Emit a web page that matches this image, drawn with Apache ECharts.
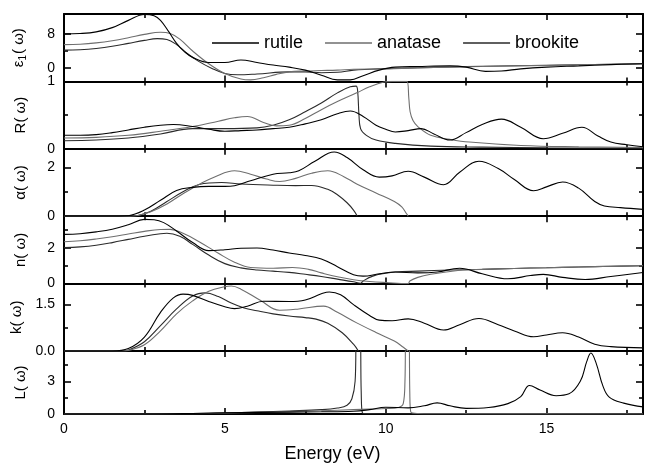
<!DOCTYPE html>
<html><head><meta charset="utf-8">
<script src="https://cdn.jsdelivr.net/npm/echarts@6/dist/echarts.min.js"></script>
<style>html,body{margin:0;padding:0;background:#fff}#c{width:645px;height:464px}</style>
</head><body><div id="c"></div>
<script>
// ---- data: [energy (eV), value] ----
const seriesNames = ['rutile', 'anatase', 'brookite'];
const xTicksMajor = [0, 5, 10, 15];
const xTicksMinor = [2.5, 7.5, 12.5, 17.5];

const eps1Rutile = [[0,8.0],[0.5,8.1],[1,8.5],[1.5,9.5],[2,11.2],[2.5,12.6],[2.8,12.3],[3,11.2],[3.25,8.6],[3.5,5.8],[3.75,3.8],[4,2.5],[4.5,1.3],[5,1.3],[5.5,1.9],[6,1.3],[6.5,0.7],[7,0.2],[7.5,-0.5],[8,-1.7],[8.5,-2.8],[8.9,-2.8],[9.3,-1.8],[9.8,-0.5],[10.3,0.2],[11,0.35],[12,0.5],[12.5,0.2],[13.1,-0.8],[13.6,-0.7],[14.2,-0.2],[15,0.2],[16,0.5],[17,0.8],[18,1.0]];
const eps1Anatase = [[0,5.5],[0.5,5.6],[1,5.9],[1.5,6.4],[2,7.1],[2.5,7.9],[3,8.4],[3.3,8.1],[3.6,6.8],[4,4.0],[4.5,1.0],[5,-1.3],[5.5,-2.6],[5.8,-2.8],[6.2,-2.3],[6.6,-1.5],[7,-0.9],[7.5,-0.7],[8,-0.6],[8.5,-0.5],[9,-0.3],[10,-0.2],[11,0.0],[12,0.2],[13,0.35],[14,0.5],[15,0.6],[16,0.75],[17,0.88],[18,1.0]];
const eps1Brookite = [[0,4.2],[0.5,4.3],[1,4.6],[1.5,5.1],[2,5.8],[2.5,6.5],[2.9,6.9],[3.2,6.7],[3.5,5.5],[3.8,3.6],[4.2,1.5],[4.6,-0.1],[5,-1.3],[5.4,-1.6],[6,-1.4],[7,-0.9],[7.5,-0.9],[8,-1.1],[8.5,-1.0],[9,-0.5],[9.5,-0.3],[10,-0.15],[11,0.05],[12,0.25],[13,0.4],[14,0.52],[15,0.63],[16,0.77],[17,0.9],[18,1.02]];

const reflRutile = [[0,0.2],[0.5,0.2],[1,0.21],[1.5,0.24],[2,0.28],[2.5,0.32],[3,0.35],[3.4,0.36],[4,0.33],[4.5,0.29],[5,0.26],[5.5,0.27],[6,0.28],[6.5,0.3],[7,0.32],[7.5,0.37],[8,0.43],[8.5,0.52],[8.9,0.56],[9.3,0.48],[9.7,0.35],[10,0.29],[10.3,0.25],[10.7,0.27],[11.1,0.3],[11.5,0.22],[12,0.13],[12.5,0.24],[13,0.36],[13.6,0.44],[14.2,0.32],[14.9,0.15],[15.5,0.23],[16.1,0.32],[16.6,0.19],[17,0.1],[17.5,0.06],[18,0.03]];
const reflAnatase = [[0,0.16],[1,0.17],[2,0.2],[3,0.26],[4,0.33],[4.8,0.41],[5.3,0.46],[5.7,0.48],[6.2,0.39],[6.6,0.34],[7,0.35],[7.5,0.45],[8,0.58],[8.5,0.7],[9.1,0.83],[9.5,0.92],[9.95,0.99],[10.2,1.0],[10.66,1.0],[10.72,0.75],[10.76,0.55],[10.85,0.42],[11,0.33],[11.4,0.2],[12,0.14],[12.6,0.1],[14.2,0.05],[16,0.03],[18,0.02]];
const reflBrookite = [[0,0.12],[1,0.13],[2,0.16],[3,0.22],[4,0.3],[5,0.3],[6,0.31],[6.5,0.35],[7,0.43],[7.5,0.55],[8,0.68],[8.5,0.83],[8.9,0.92],[9.08,0.93],[9.13,0.85],[9.17,0.5],[9.22,0.3],[9.4,0.2],[9.7,0.13],[10.3,0.08],[11.4,0.04],[13,0.025],[15,0.015],[18,0.01]];

const alphaRutile = [[0,0],[1.7,0],[2,0.02],[2.5,0.25],[3,0.65],[3.5,1.05],[4,1.18],[4.5,1.22],[5,1.22],[5.3,1.25],[5.8,1.45],[6.5,1.72],[7,1.78],[7.3,1.86],[7.8,2.25],[8.4,2.63],[8.8,2.4],[9.3,1.9],[9.8,1.6],[10.2,1.65],[10.7,1.84],[11.2,1.6],[11.8,1.29],[12.3,1.8],[12.9,2.25],[13.5,1.95],[14,1.5],[14.6,1.04],[15,1.2],[15.5,1.4],[16,1.15],[16.5,0.6],[16.8,0.42],[17.3,0.35],[18,0.28]];
const alphaAnatase = [[0,0],[2,0],[2.3,0.03],[2.7,0.18],[3.2,0.5],[3.7,0.92],[4.2,1.3],[4.7,1.62],[5.3,1.86],[5.8,1.72],[6.3,1.52],[6.7,1.42],[7.2,1.55],[7.7,1.76],[8.2,1.86],[8.7,1.62],[9.1,1.32],[9.7,0.95],[10.27,0.6],[10.5,0.38],[10.65,0.1],[10.7,0]];
const alphaBrookite = [[0,0],[2,0],[2.3,0.03],[2.7,0.2],[3.2,0.6],[3.7,1.0],[4.2,1.3],[4.9,1.38],[5.5,1.32],[6.5,1.27],[7.2,1.25],[7.7,1.26],[8.2,1.1],[8.5,0.88],[8.8,0.55],[9.0,0.25],[9.12,0]];

const nRutile = [[0,2.76],[0.5,2.8],[1,2.9],[1.5,3.05],[2,3.3],[2.5,3.6],[2.8,3.58],[3.1,3.42],[3.5,2.95],[4,2.3],[4.5,1.85],[5,1.9],[5.5,1.98],[6,2.0],[6.5,1.88],[7,1.72],[7.5,1.58],[8,1.38],[8.5,0.95],[9,0.5],[9.3,0.42],[9.8,0.55],[10.3,0.65],[11,0.6],[11.6,0.65],[12.3,0.86],[13,0.55],[13.8,0.27],[14.5,0.45],[14.9,0.52],[15.5,0.35],[16.2,0.23],[17,0.4],[18,0.62]];
const nAnatase = [[0,2.35],[0.5,2.4],[1,2.5],[1.5,2.63],[2,2.78],[2.5,2.93],[3,3.03],[3.3,3.04],[3.7,2.82],[4.2,2.35],[4.8,1.7],[5.3,1.2],[5.8,0.9],[6.5,0.86],[7.1,0.9],[7.6,0.8],[8,0.6],[8.5,0.38],[9,0.22],[9.5,0.12],[10,0.06],[10.7,0.0],[10.75,0.15],[11,0.35],[11.4,0.52],[12,0.68],[12.4,0.76],[13,0.8],[14,0.85],[15,0.89],[16,0.93],[17,0.97],[18,1.0]];
const nBrookite = [[0,2.02],[0.5,2.06],[1,2.15],[1.5,2.3],[2,2.48],[2.5,2.66],[3,2.8],[3.2,2.82],[3.6,2.65],[4,2.2],[4.5,1.6],[5,1.12],[5.5,0.88],[6,0.76],[6.5,0.7],[7,0.63],[7.5,0.52],[8,0.4],[8.5,0.25],[9,0.1],[9.22,0.02],[9.3,0.15],[9.6,0.42],[10,0.58],[10.3,0.65],[11,0.7],[12,0.76],[13,0.8],[14,0.85],[15,0.89],[16,0.93],[17,0.97],[18,1.0]];

const kRutile = [[0,0],[1.5,0],[2,0.08],[2.5,0.45],[3,1.25],[3.4,1.72],[3.7,1.84],[4,1.8],[4.5,1.6],[5,1.43],[5.3,1.37],[5.7,1.45],[6.2,1.61],[7,1.6],[7.5,1.65],[8,1.85],[8.25,1.91],[8.6,1.82],[9,1.5],[9.5,1.15],[9.8,1.0],[10.2,0.98],[10.7,1.04],[11.2,0.9],[11.8,0.68],[12.3,0.85],[12.9,1.05],[13.5,0.85],[14,0.65],[14.6,0.46],[15,0.52],[15.5,0.59],[16,0.45],[16.5,0.22],[17,0.14],[18,0.1]];
const kAnatase = [[0,0],[1.8,0],[2,0.02],[2.5,0.2],[3,0.65],[3.5,1.2],[4,1.62],[4.5,1.93],[5,2.08],[5.2,2.1],[5.5,2.0],[6.1,1.64],[6.7,1.32],[7.3,1.36],[8.07,1.45],[8.5,1.25],[9.1,0.91],[9.7,0.6],[10.27,0.32],[10.55,0.12],[10.7,0]];
const kBrookite = [[0,0],[1.8,0],[2,0.03],[2.5,0.3],[3,0.82],[3.5,1.36],[4,1.78],[4.4,1.88],[4.8,1.76],[5.2,1.55],[5.6,1.39],[6,1.3],[6.5,1.2],[7,1.13],[7.5,1.08],[7.8,1.04],[8.2,0.9],[8.65,0.59],[9,0.22],[9.15,0]];

const lossRutile = [[0,0],[2,0],[4,0.05],[6,0.15],[8,0.2],[9,0.25],[9.5,0.4],[10,0.62],[10.7,0.56],[11.2,0.75],[11.6,1.02],[12,0.75],[12.5,0.52],[13.2,0.6],[13.8,0.95],[14.2,1.6],[14.47,2.62],[14.8,2.2],[15.3,1.68],[15.7,1.85],[16.05,3.0],[16.25,4.8],[16.38,5.6],[16.55,4.6],[16.75,2.6],[16.95,1.55],[17.4,1.0],[18,0.65]];
const lossAnatase = [[0,0],[2,0],[3,0.01],[4,0.03],[5,0.08],[6,0.15],[7,0.22],[8,0.3],[9,0.4],[9.5,0.45],[10,0.5],[10.4,0.6],[10.55,1.0],[10.6,3],[10.63,8],[10.72,8],[10.75,2],[10.78,0.2],[11,0.05],[12,0.02],[18,0.0]];
const lossBrookite = [[0,0],[2,0],[3,0.02],[4,0.05],[5,0.1],[6,0.18],[7,0.28],[8,0.4],[8.5,0.55],[8.8,0.8],[8.95,1.4],[9.05,3],[9.1,8],[9.2,8],[9.24,2],[9.28,0.1],[9.5,0.03],[10,0.02],[12,0.01],[18,0.0]];

// axis ranges and ticks per panel
const yMins = [-3.15, 0, 0, 0, 0, 0];
const yMaxs = [12.7, 1, 2.76, 3.78, 2.18, 5.78];
const yMajor = [[0, 8], [0, 1], [0, 2], [0, 2], [0, 1.5], [0, 3]];
const yMinor = [[4], [0.5], [1], [1, 3], [0.75], [1.5, 4.5]];
const yDecimals = [0, 0, 0, 0, 1, 0];
const yNames = ['{a|ε}{s|1}{a|( ω)}', '{a|R( ω)}', '{a|α( ω)}', '{a|n( ω)}', '{a|k( ω)}', '{a|L( ω)}'];
const panelData = [
  [eps1Rutile, eps1Anatase, eps1Brookite],
  [reflRutile, reflAnatase, reflBrookite],
  [alphaRutile, alphaAnatase, alphaBrookite],
  [nRutile, nAnatase, nBrookite],
  [kRutile, kAnatase, kBrookite],
  [lossRutile, lossAnatase, lossBrookite]
];
const colors = ['#000000', '#6e6e6e', '#2a2a2a'];

// ---- build ----
const F = 'Liberation Sans, Arial, Helvetica, sans-serif';
const TOP = 14, H = 67.4, LEFT = 64, W = 579;
const grid = [], xAxis = [], yAxis = [], series = [];
for (let i = 0; i < 6; i++) {
  grid.push({left: LEFT, top: TOP + i * H, width: W, height: H, containLabel: false});
  const mkX = (pos, ticks, len, line, label) => ({
    type: 'value', gridIndex: i, position: pos, min: 0, max: 18,
    axisLine: {show: line, onZero: false, lineStyle: {color: '#000', width: 2}},
    axisTick: {show: true, inside: true, length: len, customValues: ticks, lineStyle: {color: '#000', width: 1.6}},
    axisLabel: {show: label, customValues: xTicksMajor, margin: 8, color: '#000', fontSize: 14, fontFamily: F},
    splitLine: {show: false}
  });
  const bx = mkX('bottom', xTicksMajor, 6, true, i === 5);
  if (i === 5) {
    bx.name = 'Energy (eV)';
    bx.nameLocation = 'middle';
    bx.nameGap = 31;
    bx.nameTextStyle = {fontSize: 18, fontFamily: F, color: '#000', padding: [0, 42, 0, 0]};
  }
  xAxis.push(bx, mkX('bottom', xTicksMinor, 4, false, false), mkX('top', xTicksMajor, 6, true, false), mkX('top', xTicksMinor, 4, false, false));
  const dec = yDecimals[i];
  const mkY = (pos, ticks, len, line, label) => ({
    type: 'value', gridIndex: i, position: pos, min: yMins[i], max: yMaxs[i],
    axisLine: {show: line, onZero: false, lineStyle: {color: '#000', width: 2}},
    axisTick: {show: true, inside: true, length: len, customValues: ticks, lineStyle: {color: '#000', width: 1.6}},
    axisLabel: {show: label, customValues: yMajor[i], margin: 9, color: '#000', fontSize: 14, fontFamily: F,
      formatter: v => Number(v).toFixed(dec)},
    splitLine: {show: false}
  });
  const ly = mkY('left', yMajor[i], 7, true, true);
  ly.name = yNames[i];
  ly.nameLocation = 'middle';
  ly.nameRotate = 90;
  ly.nameGap = 36;
  ly.nameTextStyle = {
    color: '#000', fontFamily: F,
    rich: {a: {fontSize: 15, fontFamily: F, color: '#000'},
           s: {fontSize: 10, fontFamily: F, color: '#000', padding: [9, 1, 0, 0]}}
  };
  yAxis.push(ly, mkY('left', yMinor[i], 4, false, false), mkY('right', yMajor[i], 7, true, false), mkY('right', yMinor[i], 4, false, false));
  panelData[i].forEach((d, j) => {
    series.push({
      name: seriesNames[j], type: 'line', xAxisIndex: 4 * i, yAxisIndex: 4 * i,
      data: d, showSymbol: false, symbol: 'none', smooth: 0.4, clip: true,
      lineStyle: {color: colors[j], width: 1.1}, itemStyle: {color: colors[j]}, z: 3 - j
    });
  });
}

const chart = echarts.init(document.getElementById('c'), null, {renderer: 'canvas'});
chart.setOption({
  animation: false,
  backgroundColor: '#fff',
  grid, xAxis, yAxis, series,
  legend: {
    data: seriesNames, left: 207, top: 29, icon: 'rect', itemWidth: 47, itemHeight: 1.5, itemGap: 22,
    textStyle: {fontSize: 18, fontFamily: F, color: '#000'}, selectedMode: false
  }
});
</script>
</body></html>
